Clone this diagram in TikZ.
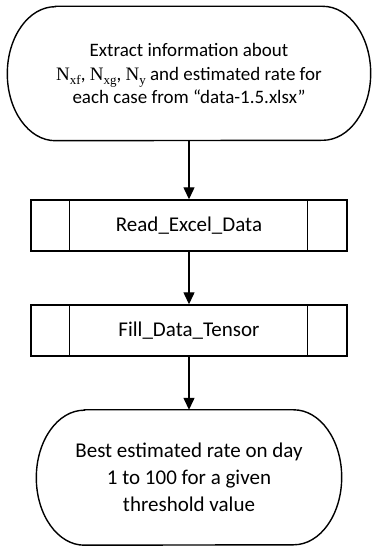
\documentclass[tikz,border=0pt]{standalone}
\usepackage{fontspec}
\setmainfont{Carlito}
\newfontfamily\cambria{Liberation Serif}
\usetikzlibrary{arrows.meta}
% variable name with a lowered index, set in a serif face
\newcommand{\Nvar}[1]{{\cambria N\raisebox{-0.22em}{\fontsize{13}{13}\selectfont #1}}}

\begin{document}
\begin{tikzpicture}[x=1pt,y=1pt,
  line/.style={line width=1.4pt, draw=black},
  frame/.style={inner sep=0pt, align=center},
  flow/.style={line width=1.3pt, -{Triangle[length=12pt,width=11pt]}},
  smalltext/.style={font=\fontsize{19}{23.5}\selectfont},
  bigtext/.style={font=\fontsize{21}{27}\selectfont}]

\useasboundingbox (0,0) rectangle (372,547);

% start terminal
\node[frame, smalltext, minimum width=363pt, minimum height=134pt] (start) at (189,473.5)
  {Extract information about\\
   \Nvar{xf}, \Nvar{xg}, \Nvar{y} and estimated rate for\\
   each case from “data-1.5.xlsx”};
\draw[line] ([xshift=48pt]start.north west) -- ([xshift=-48pt]start.north east)
  arc[start angle=90, end angle=-90, x radius=48pt, y radius=67pt]
  -- ([xshift=48pt]start.south west)
  arc[start angle=270, end angle=90, x radius=48pt, y radius=67pt] -- cycle;

% predefined processes
\node[frame, bigtext, line, draw, minimum width=316pt, minimum height=51pt] (read) at (189,321.5)
  {Read\_Excel\_Data};
\draw[line] ([xshift=39pt]read.north west) -- ([xshift=39pt]read.south west);
\draw[line] ([xshift=-40pt]read.north east) -- ([xshift=-40pt]read.south east);

\node[frame, bigtext, line, draw, minimum width=316pt, minimum height=51pt] (fill) at (189,216.5)
  {Fill\_Data\_Tensor};
\draw[line] ([xshift=39pt]fill.north west) -- ([xshift=39pt]fill.south west);
\draw[line] ([xshift=-40pt]fill.north east) -- ([xshift=-40pt]fill.south east);

% end terminal
\node[frame, bigtext, minimum width=305pt, minimum height=135pt] (result) at (189,69.5)
  {Best estimated rate on day\\
   1 to 100 for a given\\
   threshold value};
\draw[line] ([xshift=48pt]result.north west) -- ([xshift=-48pt]result.north east)
  arc[start angle=90, end angle=-90, x radius=48pt, y radius=67.5pt]
  -- ([xshift=48pt]result.south west)
  arc[start angle=270, end angle=90, x radius=48pt, y radius=67.5pt] -- cycle;

% connectors
\draw[flow] (start.south) -- (read.north);
\draw[flow] (read.south) -- (fill.north);
\draw[flow] (fill.south) -- (result.north);
\end{tikzpicture}
\end{document}
